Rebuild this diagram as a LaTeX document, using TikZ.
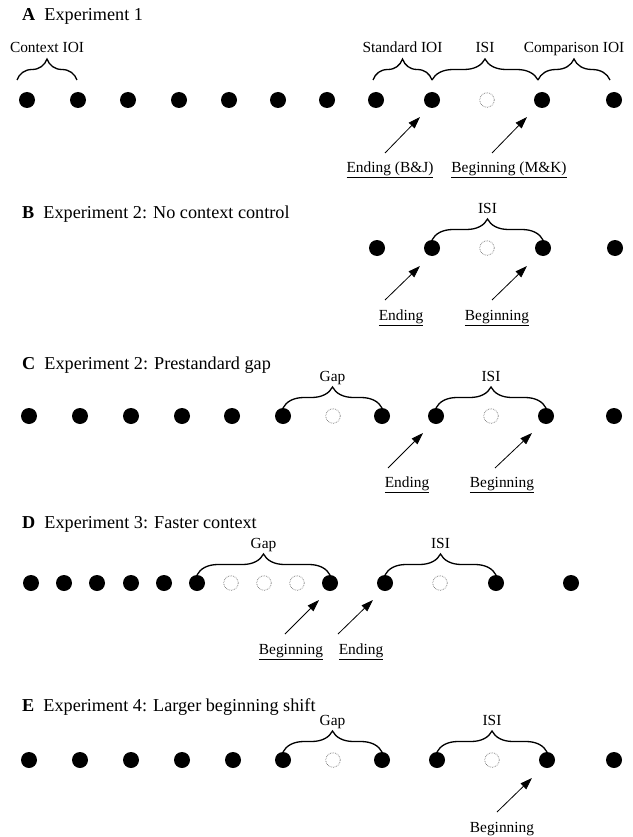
\documentclass[tikz,border=0pt]{standalone}
\usepackage{fontspec}
\setmainfont{Liberation Serif}
\usetikzlibrary{arrows.meta, decorations.pathreplacing}
\definecolor{Ink}  {HTML}{000000}
\definecolor{Ghost}{HTML}{707070}

\tikzset{
  dotOn/.style     ={circle, fill=Ink, minimum size=16pt, inner sep=0pt},
  dotOff/.style    ={circle, draw=Ghost, densely dotted, line width=0.7pt, minimum size=14.5pt, inner sep=0pt},
  ivlBrace/.style  ={decorate, decoration={brace, amplitude=21pt}, line width=1.3pt, draw=Ink},
  ivlLabel/.style  ={font=\fontsize{15.4}{18}\selectfont, anchor=base, inner sep=0pt, midway, yshift=27pt},
  cueArrow/.style  ={draw=Ink, line width=0.8pt, -{Triangle[length=12pt, width=8pt]}},
  cueLabel/.style  ={font=\fontsize{15.4}{18}\selectfont, anchor=base, inner sep=0pt},
  panelTitle/.style={font=\fontsize{18.2}{22}\selectfont, anchor=base west, inner sep=0pt},
}

\begin{document}
\begin{tikzpicture}[x=1pt, y=1pt]
      \useasboundingbox (0,0) rectangle (632,-837);

      % ── A: Experiment 1 ──
      \node[panelTitle] (ttlA) at (22,-21) {\textbf{A}\hspace{0.5em}Experiment 1};
      \foreach \x/\s [count=\i] in {27/dotOn,78/dotOn,128/dotOn,179/dotOn,229/dotOn,278/dotOn,
                                   327/dotOn,376/dotOn,432/dotOn,487/dotOff,542/dotOn,614/dotOn}
        \node[\s] (a\i) at (\x,-100) {};
      \draw[ivlBrace] ([shift={(-10pt,20pt)}]a1.center) -- ([shift={(-1pt,20pt)}]a2.center)
        node[ivlLabel] (ctxA) {Context IOI};
      \draw[ivlBrace] ([shift={(-3pt,20pt)}]a8.center) -- ([yshift=20pt]a9.center)
        node[ivlLabel] (stdA) {Standard IOI};
      \draw[ivlBrace] ([yshift=20pt]a9.center) -- ([shift={(-4pt,20pt)}]a11.center)
        node[ivlLabel] (isiA) {ISI};
      \draw[ivlBrace] ([shift={(-4pt,20pt)}]a11.center) -- ([shift={(-4pt,20pt)}]a12.center)
        node[ivlLabel] (cmpA) {Comparison IOI};
      \node[cueLabel] (endA) at (390,-172) {\underline{Ending (B\&J)}};
      \node[cueLabel] (begA) at (509,-172) {\underline{Beginning (M\&K)}};
      \draw[cueArrow] ([shift={(-5pt,19pt)}]endA.base) -- ([shift={(-12pt,-17pt)}]a9.center);
      \draw[cueArrow] ([shift={(-17pt,19pt)}]begA.base) -- ([shift={(-15pt,-17pt)}]a11.center);

      % ── B: Experiment 2, no context control ──
      \node[panelTitle] (ttlB) at (22,-218) {\textbf{B}\hspace{0.5em}Experiment 2: No context control};
      \foreach \x/\s [count=\i] in {377/dotOn,432/dotOn,487/dotOff,543/dotOn,615/dotOn}
        \node[\s] (b\i) at (\x,-248) {};
      \draw[ivlBrace] ([yshift=8pt]b2.center) -- ([yshift=8pt]b4.center)
        node[ivlLabel] (isiB) {ISI};
      \node[cueLabel] (endB) at (401,-320) {\underline{Ending}};
      \node[cueLabel] (begB) at (497,-320) {\underline{Beginning}};
      \draw[cueArrow] ([shift={(-16pt,20pt)}]endB.base) -- ([shift={(-12pt,-18pt)}]b2.center);
      \draw[cueArrow] ([shift={(-5pt,20pt)}]begB.base) -- ([shift={(-16pt,-18pt)}]b4.center);

      % ── C: Experiment 2, prestandard gap ──
      \node[panelTitle] (ttlC) at (22,-369) {\textbf{C}\hspace{0.5em}Experiment 2: Prestandard gap};
      \foreach \x/\s [count=\i] in {29/dotOn,80/dotOn,131/dotOn,182/dotOn,232/dotOn,283/dotOn,
                                   333/dotOff,382/dotOn,436/dotOn,491/dotOff,546/dotOn,614/dotOn}
        \node[\s] (c\i) at (\x,-416) {};
      \draw[ivlBrace] ([yshift=8pt]c6.center) -- ([yshift=8pt]c8.center)
        node[ivlLabel] (gapC) {Gap};
      \draw[ivlBrace] ([yshift=8pt]c9.center) -- ([yshift=8pt]c11.center)
        node[ivlLabel] (isiC) {ISI};
      \node[cueLabel] (endC) at (407,-487) {\underline{Ending}};
      \node[cueLabel] (begC) at (502,-487) {\underline{Beginning}};
      \draw[cueArrow] ([shift={(-19pt,19pt)}]endC.base) -- ([shift={(-13pt,-17pt)}]c9.center);
      \draw[cueArrow] ([shift={(-7pt,19pt)}]begC.base) -- ([shift={(-14pt,-17pt)}]c11.center);

      % ── D: Experiment 3, faster context ──
      \node[panelTitle] (ttlD) at (22,-528) {\textbf{D}\hspace{0.5em}Experiment 3: Faster context};
      \foreach \x/\s [count=\i] in {31/dotOn,64/dotOn,97/dotOn,131/dotOn,164/dotOn,197/dotOn,
                                   231/dotOff,264/dotOff,297/dotOff,330/dotOn,385/dotOn,440/dotOff,
                                   496/dotOn,571/dotOn}
        \node[\s] (d\i) at (\x,-583) {};
      \draw[ivlBrace] ([yshift=8pt]d6.center) -- ([yshift=8pt]d10.center)
        node[ivlLabel] (gapD) {Gap};
      \draw[ivlBrace] ([yshift=8pt]d11.center) -- ([yshift=8pt]d13.center)
        node[ivlLabel] (isiD) {ISI};
      \node[cueLabel] (begD) at (291,-654) {\underline{Beginning}};
      \node[cueLabel] (endD) at (361,-654) {\underline{Ending}};
      \draw[cueArrow] ([shift={(-6pt,20pt)}]begD.base) -- ([shift={(-11pt,-17pt)}]d10.center);
      \draw[cueArrow] ([shift={(-23pt,20pt)}]endD.base) -- ([shift={(-12pt,-17pt)}]d11.center);

      % ── E: Experiment 4, larger beginning shift ──
      \node[panelTitle] (ttlE) at (22,-711) {\textbf{E}\hspace{0.5em}Experiment 4: Larger beginning shift};
      \foreach \x/\s [count=\i] in {29/dotOn,80/dotOn,131/dotOn,182/dotOn,233/dotOn,283/dotOn,
                                   333/dotOff,382/dotOn,437/dotOn,492/dotOff,547/dotOn,614/dotOn}
        \node[\s] (e\i) at (\x,-760) {};
      \draw[ivlBrace] ([yshift=8pt]e6.center) -- ([yshift=8pt]e8.center)
        node[ivlLabel] (gapE) {Gap};
      \draw[ivlBrace] ([yshift=8pt]e9.center) -- ([yshift=8pt]e11.center)
        node[ivlLabel] (isiE) {ISI};
      \node[cueLabel] (begE) at (502,-832) {\underline{Beginning}};
      \draw[cueArrow] ([shift={(-5pt,20pt)}]begE.base) -- ([shift={(-15pt,-18pt)}]e11.center);
\end{tikzpicture}
\end{document}
